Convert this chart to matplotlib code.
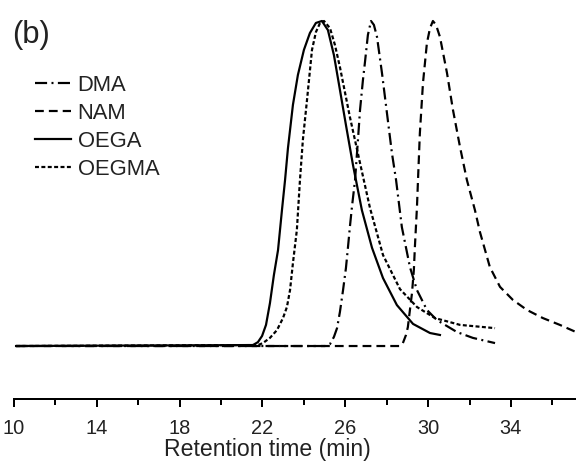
import matplotlib
matplotlib.use("Agg")
import matplotlib.pyplot as plt

# retention time (min) / normalised RI signal
dma_t = [10.10, 25.02, 25.26, 25.45, 25.60, 25.74, 25.89, 26.03, 26.13, 26.22,
         26.32, 26.47, 26.61, 26.71, 26.85, 26.95, 27.09, 27.24, 27.38, 27.53,
         27.77, 28.01, 28.25, 28.45, 28.73, 29.12, 29.46, 29.94, 30.42, 31.39,
         32.16, 33.23]
dma_y = [0.0, 0.0, 0.006, 0.028, 0.055, 0.105, 0.172, 0.240, 0.305, 0.366,
         0.428, 0.511, 0.634, 0.726, 0.818, 0.874, 0.957, 1.0, 0.988, 0.951,
         0.840, 0.717, 0.594, 0.511, 0.366, 0.243, 0.172, 0.111, 0.080, 0.043,
         0.025, 0.009]

nam_t = [10.10, 28.64, 28.78, 28.93, 29.02, 29.12, 29.22, 29.31, 29.36, 29.46,
         29.51, 29.60, 29.75, 29.94, 30.09, 30.23, 30.38, 30.57, 30.91, 31.20,
         31.54, 31.87, 32.26, 32.50, 32.98, 33.47, 34.09, 34.77, 35.54, 36.36,
         37.14]
nam_y = [0.0, 0.0, 0.009, 0.034, 0.058, 0.111, 0.163, 0.234, 0.305, 0.428,
         0.511, 0.655, 0.809, 0.932, 0.978, 1.0, 0.988, 0.951, 0.840, 0.726,
         0.612, 0.511, 0.418, 0.351, 0.243, 0.182, 0.142, 0.111, 0.086, 0.065,
         0.043]

oega_t = [10.10, 21.54, 21.78, 21.98, 22.17, 22.36, 22.55, 22.75, 22.94, 23.09,
          23.23, 23.47, 23.71, 24.00, 24.29, 24.58, 24.87, 25.16, 25.45, 25.74,
          26.03, 26.37, 26.80, 27.29, 27.82, 28.49, 29.27, 30.09, 30.57]
oega_y = [0.0, 0.003, 0.012, 0.031, 0.065, 0.132, 0.218, 0.295, 0.418, 0.511,
          0.609, 0.742, 0.834, 0.911, 0.963, 0.994, 1.0, 0.972, 0.895, 0.788,
          0.680, 0.557, 0.418, 0.302, 0.209, 0.126, 0.068, 0.040, 0.034]

oegma_t = [10.10, 21.78, 22.02, 22.36, 22.70, 22.99, 23.18, 23.33, 23.47, 23.66,
           23.81, 23.95, 24.15, 24.39, 24.58, 24.78, 24.97, 25.26, 25.50, 25.74,
           26.22, 26.71, 27.19, 27.82, 28.64, 29.46, 30.33, 31.54, 33.23]
oegma_y = [0.0, 0.003, 0.009, 0.025, 0.049, 0.086, 0.120, 0.172, 0.255, 0.357,
           0.511, 0.634, 0.757, 0.911, 0.966, 0.994, 1.0, 0.978, 0.926, 0.858,
           0.705, 0.563, 0.425, 0.280, 0.175, 0.120, 0.086, 0.065, 0.055]

major_ticks = [10, 14, 18, 22, 26, 30, 34]
minor_ticks = [12, 16, 20, 24, 28, 32, 36]

plt.rcParams['font.family'] = ['Liberation Sans', 'DejaVu Sans']
txt = '#222222'

fig = plt.figure(figsize=(8, 463 / 72), dpi=72)
ax = fig.add_axes([14 / 576, 1 - 399 / 463, 562 / 576, 399 / 463])

lw = 2.2
ax.plot(dma_t, dma_y, color='black', lw=lw, dashes=(5.5, 2, 0.9, 2), label='DMA')
ax.plot(nam_t, nam_y, color='black', lw=lw, dashes=(4, 2.3), label='NAM')
ax.plot(oega_t, oega_y, color='black', lw=lw, label='OEGA')
ax.plot(oegma_t, oegma_y, color='black', lw=lw, dashes=(1.8, 1.1), label='OEGMA')

ax.set_xlim(10, 37.14)
ax.set_ylim(-0.163, 1.0646)
ax.set_xticks(major_ticks)
ax.set_xticks(minor_ticks, minor=True)
ax.set_yticks([])
for s in ['left', 'right', 'top']:
    ax.spines[s].set_visible(False)
ax.spines['bottom'].set_linewidth(2)
ax.tick_params(axis='x', which='major', direction='out', length=8, width=2,
               pad=12, labelsize=20, labelcolor=txt)
ax.tick_params(axis='x', which='minor', direction='out', length=6, width=2)

ax.set_xlabel('Retention time (min)', fontsize=23, color=txt)
ax.xaxis.set_label_coords(0.45, -0.098)

fig.text(12 / 576, 1 - 35 / 463, '(b)', fontsize=31, color=txt, va='center')

ax.legend(loc='upper left', bbox_to_anchor=(0.037, 0.812), frameon=False,
          fontsize=22, handlelength=1.65, handletextpad=0.3, labelspacing=0.32,
          borderaxespad=0, borderpad=0, labelcolor=txt)

fig.savefig('out.png', dpi=72)
